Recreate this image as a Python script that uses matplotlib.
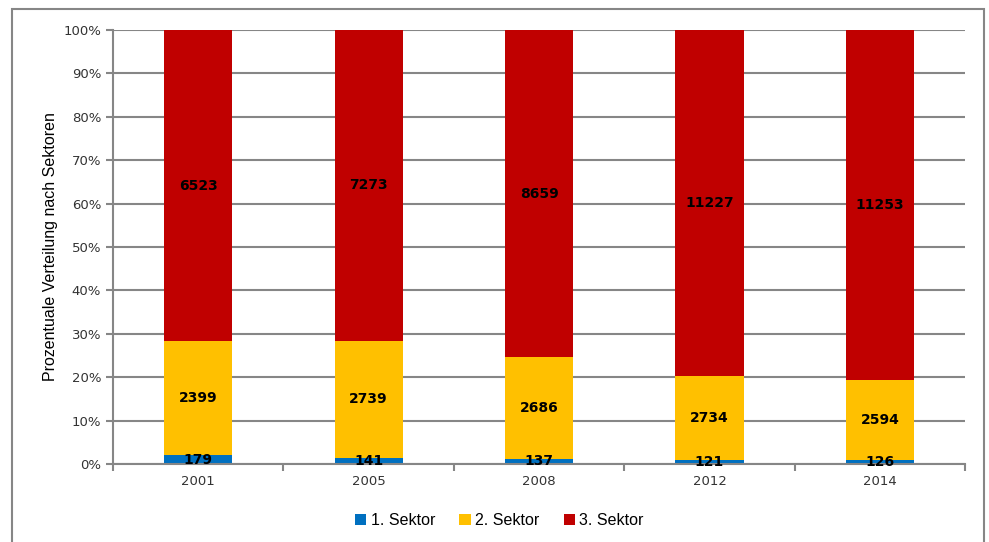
import matplotlib.pyplot as plt
from matplotlib.patches import Rectangle
import numpy as np

jahre = ['2001', '2005', '2008', '2012', '2014']
sektor1 = [179, 141, 137, 121, 126]
sektor2 = [2399, 2739, 2686, 2734, 2594]
sektor3 = [6523, 7273, 8659, 11227, 11253]
namen = ['1. Sektor', '2. Sektor', '3. Sektor']
farben = ['#0070C0', '#FFC000', '#C00000']

werte = np.array([sektor1, sektor2, sektor3], dtype=float)
anteile = werte / werte.sum(axis=0) * 100

fig = plt.figure(figsize=(9.89, 5.42), dpi=100)
ax = fig.add_axes([0.1143, 0.1439, 0.8615, 0.8007])

# Rahmen um das Diagramm
fig.patches.append(Rectangle((0.0121, -0.02), 0.9828, 1.0034, transform=fig.transFigure,
                             fill=False, edgecolor='#868686', linewidth=1.5))

x = np.arange(len(jahre))
unten = np.zeros(len(jahre))
for i in range(3):
    ax.bar(x, anteile[i], 0.4, bottom=unten, color=farben[i], label=namen[i], zorder=2)
    for j in range(len(jahre)):
        ax.text(x[j], unten[j] + anteile[i][j] / 2, str(int(werte[i][j])),
                ha='center', va='center', fontsize=10, fontweight='bold',
                family='DejaVu Sans', zorder=3)
    unten += anteile[i]

ax.set_xlim(-0.5, len(jahre) - 0.5)
ax.set_ylim(0, 100)
ax.set_yticks(range(0, 101, 10))
ax.set_yticklabels([f'{v}%' for v in range(0, 101, 10)], fontsize=9.5, color='#333333')
ax.set_xticks(x)
ax.set_xticklabels(jahre, fontsize=9.5, color='#333333')
ax.tick_params(axis='x', length=0, pad=8)
ax.set_xticks(np.arange(-0.5, len(jahre)), minor=True)
ax.tick_params(axis='x', which='minor', length=5, color='#868686', width=1.5)
ax.tick_params(axis='y', length=5, color='#868686', width=1.5)

ax.yaxis.grid(True, color='#868686', linewidth=1.5, zorder=0)
ax.set_axisbelow(True)
for s in ['top', 'right']:
    ax.spines[s].set_visible(False)
for s in ['left', 'bottom']:
    ax.spines[s].set_color('#868686')
    ax.spines[s].set_linewidth(1.5)

ax.set_ylabel('Prozentuale Verteilung nach Sektoren', fontsize=11.5, family='Liberation Sans', labelpad=4)

fig.legend(loc='center', bbox_to_anchor=(0.505, 0.04), ncol=3, frameon=False,
           prop={'family': 'Liberation Sans', 'size': 11.5},
           handlelength=0.7, handleheight=0.7, handletextpad=0.3, columnspacing=1.5)

fig.savefig('out.png', dpi=100)
